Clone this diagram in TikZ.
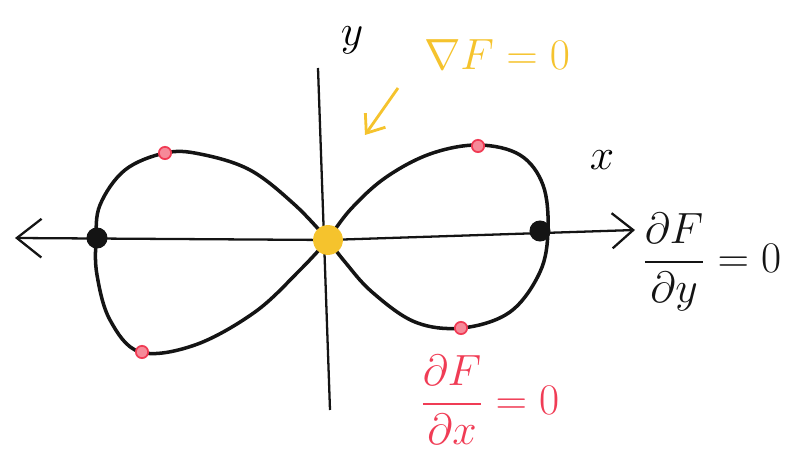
\documentclass[tikz,border=0pt]{standalone}
\usepackage{amsmath}
\usepackage{amssymb}
\usepackage{tikz}
\usetikzlibrary{calc,arrows.meta,positioning}
\usepackage{xcolor}
\definecolor{lemdark}{RGB}{20,20,20}
\definecolor{lemgold}{RGB}{245,195,45}
\definecolor{lemred}{RGB}{240,60,85}

\begin{document}
\begin{tikzpicture}[x=0.02cm, y=-0.02cm]
			\useasboundingbox (0,0) rectangle (799,472);
			\tikzset{
				axisline/.style={line width=1.3pt, lemdark},
				lobe/.style={line width=2pt, lemdark, line join=round, line cap=round},
				reddot/.style={circle, draw=lemred, fill=lemred!60, line width=1pt, inner sep=0pt, minimum size=7pt},
				blackdot/.style={circle, fill=lemdark, inner sep=0pt, minimum size=12pt},
				bigfont/.style={font=\fontsize{30}{36}\selectfont}
			}
			
			\coordinate (O) at (328, 240);
			\coordinate (Lt) at (15, 238);
			\coordinate (Rt) at (635, 230);
			\coordinate (Yt) at (318, 68);
			\coordinate (Yb) at (330, 410);
			
			% axes
			\draw[axisline] (Yt) -- (Yb);
			\draw[axisline, -{Straight Barb[length=14pt, width=22pt, line width=1.3pt]}] (O) -- (Lt);
			\draw[axisline, -{Straight Barb[length=12pt, width=20pt, line width=1.3pt]}] (O) -- (Rt);
			
			% the two lobes
			\draw[lobe] plot[smooth, tension=0.6] coordinates {(328,240) (295,205) (250,170) (200,154) (165,153) (125,170) (100,205) (96,240) (97,275) (110,320) (140,352) (195,345) (255,312) (300,270) (328,240)};
			\draw[lobe] plot[smooth, tension=0.6] coordinates {(328,240) (350,210) (385,178) (430,154) (478,145) (520,155) (543,185) (548,230) (540,272) (510,312) (462,328) (415,322) (372,292) (345,262) (328,240)};
			
			% critical points
			\node[circle, fill=lemgold, inner sep=0pt, minimum size=17pt] (orig) at (O) {};
			\node[blackdot] (lpt) at (97, 238) {};
			\node[blackdot] (rpt) at (540, 231) {};
			\node[reddot] (lt) at (165, 153) {};
			\node[reddot] (lb) at (142, 352) {};
			\node[reddot] (rtop) at (478, 146) {};
			\node[reddot] (rbot) at (461, 328) {};
			
			% labels
			\node[font=\fontsize{36}{40}\selectfont] (ylab) at (352, 40) {$y$};
			\node[font=\fontsize{36}{40}\selectfont] (xlab) at (602, 160) {$x$};
			\node[bigfont, text=lemgold] (grad) at (497, 55) {$\nabla F = 0$};
			\coordinate (gs) at (398, 88);
			\coordinate (ge) at (365, 135);
			\draw[line width=1.6pt, lemgold, -{Straight Barb[length=9pt, width=14pt, line width=1.6pt]}] (gs) -- (ge);
			\node[font=\fontsize{26}{30}\selectfont, text=lemdark] (dfy) at (712, 262) {$\dfrac{\partial F}{\partial y} = 0$};
			\node[font=\fontsize{26}{30}\selectfont, text=lemred] (dfx) at (490, 400) {$\dfrac{\partial F}{\partial x} = 0$};
		\end{tikzpicture}
\end{document}
